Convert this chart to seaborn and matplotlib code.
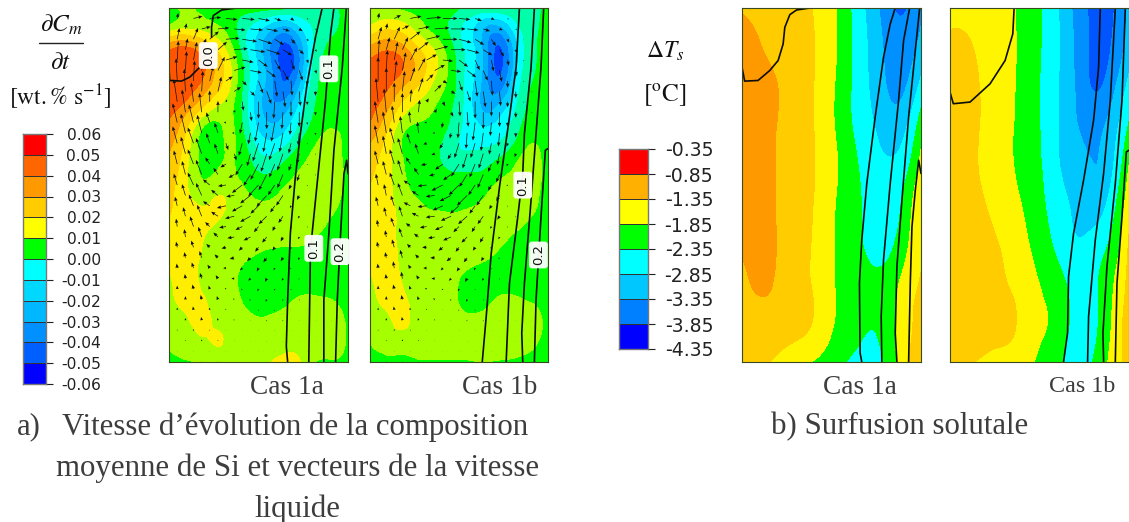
import numpy as np
import matplotlib
matplotlib.use("Agg")
import matplotlib.pyplot as plt
import matplotlib.tri as mtri
from matplotlib.colors import ListedColormap
import seaborn as sns

W, H = 1129, 522

# ---------- legends ----------
rate_ticks = ["0.06","0.05","0.04","0.03","0.02","0.01","0.00","-0.01","-0.02","-0.03","-0.04","-0.05","-0.06"]
rate_bar_colors = ["#FF0000","#FF6600","#FF9900","#FFCC00","#FFFF00","#00FF00","#00FFFF","#00D8FF","#00B8FF","#0090FF","#0060FF","#0000FF"]
dt_ticks = ["-0.35","-0.85","-1.35","-1.85","-2.35","-2.85","-3.35","-3.85","-4.35"]
dt_bar_colors = ["#FF0000","#FFB000","#FFFF00","#00FF00","#00FFFF","#00C8FF","#0080FF","#0000FF"]

# ---------- fields ----------
rate_levels = [-6,-5,-4,-3,-2,-1,0,1,2,3,4,5,6]
rate_colors = ["#0040FF","#0080FF","#00AAFF","#00D0FF","#00FFFF","#00FFA8","#00FF00","#A6FF00","#FFEE00","#FFCC00","#FF9900","#FF5500"]
dt_levels = [-4.35,-3.85,-3.35,-2.85,-2.35,-1.85,-1.35,-0.85,-0.35]
dt_colors = ["#0055FF","#0090FF","#00C8FF","#00FFFF","#00FF00","#FFF500","#FFCC00","#FF9900"]

rows_fine = [22,85,147,210,273,335,398,460,523,586,648,711,773,836,899,961,1024,1087]
rows_coarse = [22,140,259,377,496,614,733,851,969,1087]
cols_A = [508,557,605,654,702,751,799,848,896,945,993,1042]
cols_B = [30,79,127,176,225,274,322,371,420,469,517,566]
cols_C = [427,476,524,573,622,670,719,768,816,865,913,962]
cols_D = [30,79,127,176,225,274,322,371,420,469,517,566]

field_A = [
[.8,1.2,.8,.6,.5,.4,.3,.2,.0,-.3,-.3,.5],
[1.5,2,1.8,1.2,.2,-1.2,-2.5,-3.5,-2.4,-.8,-.2,.5],
[5.0,5.4,4.4,2.8,.9,-1.5,-3.6,-5.4,-4,-.8,.2,.6],
[5.8,5.8,5.3,3.6,1.6,-1.1,-3.2,-5.3,-4,-.5,.3,.6],
[5.7,5.4,4.4,3,1.3,-1.4,-3.4,-4.6,-2.8,-.2,.5,.7],
[5.3,4.2,2.6,1.5,.9,-1.5,-3.3,-3.3,-1.6,.1,.6,.7],
[4.5,3,.8,.7,1.05,-1.0,-2.4,-2.1,-.6,.6,1.1,.7],
[4,2.5,.7,.7,1.05,-.2,-1.2,-.6,.4,1.2,1.3,.7],
[3.6,2.2,.9,1.2,1.1,.4,-.0,.5,1.1,1.4,1.4,.8],
[3.2,2.3,1.6,2.0,1.6,1.0,.8,1.2,1.5,1.5,1.3,.7],
[3,2.6,2.2,2.1,1.6,1.4,1.4,1.5,1.5,1.3,1.0,.7],
[2.7,2.6,2.1,1.7,1.5,1.4,1.3,1.3,1.2,1.0,.8,.6],
[2.5,2.5,1.9,1.5,1.3,1.0,.8,.7,.7,.7,.6,.5],
[1.8,2.5,1.8,1.4,1.1,.6,.5,.5,.5,.5,.5,.5],
[1.6,2.4,2.2,1.5,1.2,.7,.6,.7,1.1,1.1,1.0,.7],
[1.5,1.8,2.4,1.7,1.4,1.2,1.1,1.3,1.4,1.4,1.3,.9],
[1.1,1.5,1.8,2.1,1.6,1.5,1.5,1.6,1.6,1.6,1.4,.9],
[.7,.9,1,1.1,1.2,1.3,1.8,2.3,2.1,1.0,.9,.7],
]
field_B = [
[.9,1.0,.8,.6,.5,.3,-.1,-.2,-.1,-.2,-.4,.4],
[2.3,2.9,2.6,1.6,.6,-.2,-1.5,-3,-3.5,-1.5,-.3,.4],
[4.4,4.9,4.4,3.1,1.9,.3,-1.3,-3.2,-5.2,-2.5,-.3,.5],
[5.4,5.6,5.0,3.6,2.2,.6,-1.3,-3.2,-5.2,-2.3,-.2,.5],
[5.6,5.0,3.7,2.6,1.5,.4,-1.4,-3.4,-4.1,-1.6,.1,.5],
[5.3,4.0,2.3,1.4,.9,.0,-1.4,-3,-2.4,-.9,.3,.6],
[4.5,3,1.1,.7,.5,-.4,-1.3,-1.6,-1.4,-.3,.7,.6],
[3.5,2.5,1,.4,.2,-.7,-.9,-.8,-.3,.6,1.2,.6],
[3.1,2.4,1.2,.5,.3,.1,.1,.2,.8,1.2,1.3,.7],
[2.9,2.4,1.4,.9,.5,.5,.6,.9,1.3,1.4,1.2,.7],
[2.7,2.6,1.6,1.3,1.2,1.1,1.2,1.3,1.4,1.3,1.0,.7],
[2.4,2.6,1.6,1.4,1.4,1.4,1.3,1.3,1.2,.9,.7,.6],
[2.2,2.7,1.7,1.4,1.3,1.3,1.2,1.1,.8,.7,.6,.5],
[1.8,2.6,1.9,1.4,1.3,1.2,.8,.6,.6,.6,.5,.5],
[1.4,2.4,2.3,1.4,1.3,1.2,.7,.7,1.1,1.1,.9,.6],
[1.2,1.7,2.3,1.5,1.4,1.3,1.2,1.3,1.5,1.4,1.3,.8],
[1.0,1.4,1.5,1.5,1.5,1.5,1.5,1.6,1.6,1.5,1.2,.7],
[.5,.7,.8,.9,.9,.9,.9,1,.9,.8,.7,.5],
]
field_C = [
[-.9,-1.0,-1.05,-1.15,-1.28,-1.55,-1.95,-2.55,-3.1,-3.7,-3.9,-3.4],
[-.6,-.8,-1.0,-1.1,-1.25,-1.5,-1.95,-2.5,-3.0,-3.5,-3.6,-3.2],
[-.6,-.65,-.8,-1.05,-1.25,-1.55,-2.0,-2.5,-2.95,-3.4,-3.4,-2.7],
[-.6,-.65,-.82,-1.05,-1.25,-1.55,-2.0,-2.45,-2.8,-3.1,-2.95,-2.1],
[-.6,-.65,-.83,-1.05,-1.25,-1.5,-1.9,-2.3,-2.65,-2.8,-2.55,-1.7],
[-.62,-.68,-.84,-1.05,-1.27,-1.55,-1.95,-2.25,-2.6,-2.7,-2.2,-1.45],
[-.78,-.7,-.82,-1.1,-1.3,-1.6,-1.95,-2.2,-2.55,-2.5,-2.0,-1.4],
[-.95,-.8,-.87,-1.1,-1.3,-1.6,-1.95,-2.15,-2.2,-2.1,-1.7,-1.3],
[-1,-1.0,-1.05,-1.15,-1.28,-1.6,-1.95,-2.15,-2.3,-2.05,-1.6,-1.1],
[-1.15,-1.25,-1.4,-1.6,-1.8,-2.0,-2.25,-2.5,-2.55,-2.2,-1.5,-1.1],
]
field_D = [
[-1.4,-1.45,-1.5,-1.65,-1.85,-2.15,-2.5,-3.05,-3.65,-4.0,-3.9,-3.2],
[-1.3,-1.3,-1.45,-1.62,-1.83,-2.15,-2.5,-3.0,-3.6,-4.0,-3.8,-3.1],
[-1.2,-1.2,-1.4,-1.65,-1.85,-2.15,-2.55,-3.0,-3.55,-3.9,-3.5,-2.7],
[-1.2,-1.2,-1.4,-1.65,-1.87,-2.15,-2.55,-3.0,-3.4,-3.5,-3.1,-2.3],
[-1.15,-1.2,-1.42,-1.65,-1.87,-2.15,-2.5,-2.95,-3.2,-3.35,-2.9,-1.85],
[-1.1,-1.15,-1.3,-1.55,-1.75,-2.05,-2.4,-2.75,-3.05,-3.1,-2.55,-1.55],
[-1.1,-1.1,-1.2,-1.35,-1.6,-1.9,-2.25,-2.6,-2.8,-2.6,-2.2,-1.3],
[-1.1,-1.1,-1.15,-1.25,-1.45,-1.7,-2.0,-2.3,-2.6,-2.4,-1.9,-1.2],
[-1.1,-1.1,-1.15,-1.2,-1.33,-1.65,-1.85,-2.2,-2.55,-2.4,-1.8,-1.05],
[-1.2,-1.3,-1.4,-1.5,-1.6,-1.8,-2.1,-2.4,-2.65,-2.2,-1.7,-1.1],
]

# ---------- velocity estimates, px per arrow, up positive ----------
U_A = [
[1,8,10,10,11,10,6,3,1,0,0],[2,4,8,12,13,12,8,4,1,0,0],[1,3,6,10,10,8,5,3,1,0,0],
[-1,1,3,6,4,4,2,1,0,0,0],[-3,-2,0,1,1,0,-1,0,0,0,0],[-4,-4,-3,-2,-2,-3,-3,-1,0,0,0],
[-4,-5,-3,2,-3,-5,-5,-2,0,0,0],[-3,-5,-4,-5,-6,-7,-5,-2,0,0,0],[-3,-5,-6,-7,-9,-9,-6,-2,0,0,0],
[-2,-4,-6,-8,-9,-7,-4,-1,0,0,0],[-1,-3,-4,-6,-6,-4,-2,-1,0,0,0],[-1,-2,-3,-4,-3,-3,-2,-1,0,0,0],
[-.5,-1.5,-2,-2.5,-2,-1.5,-1,-.5,0,0,0],[0,-1,-1,-1,-1,-1,-.5,0,0,0,0],[0,-.5,-.5,-.5,-.5,-.5,-.3,0,0,0,0],
[0,0,0,0,0,0,0,0,0,0,0],[0,0,0,0,0,0,0,0,0,0,0],
]
V_A = [
[5,2,1,-1,-1,-2,-2,-2,-1,0,0],[10,10,7,1,-2,-4,-5,-4,-2,-.5,0],[17,16,12,3,-2,-6,-9,-9,-3,-.5,0],
[20,18,13,4,-4,-11,-14,-13,-4,-.5,0],[20,17,10,2,-8,-15,-15,-13,-3,-.5,0],[17,16,9,0,-10,-17,-17,-11,-2,-.5,0],
[15,14,9,-6,-11,-16,-15,-9,-1,0,0],[12,13,6,-3,-10,-14,-12,-6,-1,0,0],[10,11,5,-1,-7,-10,-9,-4,-1,0,0],
[8,10,4,-2,-5,-7,-6,-2,0,0,0],[7,9,4,-1,-3,-5,-4,-2,-1,0,0],[5,6,3,-1,-3,-4,-3,-2,-.5,0,0],
[4,5,3,0,-2,-3,-2,-1,0,0,0],[3,4,3,1,-1,-2,-1.5,-1,0,0,0],[2,3,2,1,0,-1,-1,-.5,0,0,0],
[1,1.5,1,.5,0,-.5,-.5,0,0,0,0],[.5,.5,.5,0,0,0,0,0,0,0,0],
]
U_B = [
[1,6,10,13,13,10,6,3,1,0,0],[3,5,9,12,13,11,8,4,1,0,0],[1,3,6,9,9,8,4,2,1,0,0],
[0,2,4,6,4,3,2,1,0,0,0],[-2,0,1,2,2,1,0,0,0,0,0],[-3,-2,-1,-2,-1,-1,-2,-1,0,0,0],
[-3,-4,-3,-3,-3,-4,-4,-2,-1,0,0],[-3,-4,-4,-5,-7,-7,-5,-3,-1,0,0],[-2,-4,-6,-8,-10,-9,-6,-3,-1,0,0],
[-2,-3,-6,-8,-9,-8,-5,-2,0,0,0],[-1,-3,-4,-6,-7,-5,-3,-1,0,0,0],[-1,-2,-3,-4,-4,-3,-2,-1,0,0,0],
[-.5,-1,-2,-3,-2,-2,-1,0,0,0,0],[0,-1,-1,-1.5,-1,-1,0,0,0,0,0],[0,-.5,-.5,-.5,-.5,-.5,0,0,0,0,0],
[0,0,0,0,0,0,0,0,0,0,0],[0,0,0,0,0,0,0,0,0,0,0],
]
V_B = [
[5,3,2,1,0,-1,-2,-1,-1,0,0],[11,11,7,3,0,-3,-5,-6,-3,-.5,0],[18,16,11,5,-1,-6,-9,-10,-5,-1,0],
[21,18,12,6,-2,-9,-14,-13,-6,-1,0],[21,17,11,3,-4,-13,-15,-13,-5,-1,0],[19,15,10,0,-5,-14,-16,-12,-4,-.5,0],
[16,14,9,-1,-5,-13,-13,-10,-3,0,0],[12,13,6,-1,-5,-11,-12,-7,-2,0,0],[10,11,4,-1,-5,-9,-9,-5,-1,0,0],
[8,9,3,-1,-4,-7,-7,-3,-1,0,0],[6,8,3,-1,-3,-5,-5,-2,-1,0,0],[5,7,3,0,-3,-4,-3,-1,0,0,0],
[4,6,3,0,-2,-3,-2,-1,0,0,0],[3,4,3,1,-1,-2,-1,0,0,0,0],[2,3,2,1,0,-1,-1,0,0,0,0],
[1,1.5,1,.5,0,-.5,-.5,0,0,0,0],[.5,.5,.5,0,0,0,0,0,0,0,0],
]

# ---------- black iso-lines ----------
lines_A = [
 [(710,22),(665,28),(640,45),(635,80),(635,110)],
 [(600,200),(570,230),(545,242),(510,240),(508,205)],
 [(965,22),(945,110),(920,250),(900,400),(885,530),(870,700),(862,900),(858,1040),(862,1087)],
 [(1000,22),(990,100),(975,300),(960,450),(945,600),(930,750),(925,1087)],
 [(1037,22),(1025,200),(1000,450),(985,700),(970,900),(970,1087)],
 [(1042,520),(1038,480),(1030,520),(1020,700),(1010,900),(1005,1087)],
]
lines_B = [
 [(480,22),(470,200),(450,350),(420,560),(395,760),(380,950),(368,1087)],
 [(525,22),(515,200),(495,400),(490,520),(475,650),(450,850),(440,1087)],
 [(553,22),(545,200),(530,400),(515,600),(495,850),(487,1000),(490,1087)],
 [(566,445),(558,450),(545,650),(530,900),(525,1087)],
]
lines_C = [
 [(630,22),(590,28),(570,42),(555,80),(550,130),(535,180),(510,210),(475,240),(435,242),(428,205)],
 [(885,22),(870,70),(850,170),(825,350),(800,550),(785,720),(778,850),(780,1060),(785,1087)],
 [(928,22),(910,120),(895,300),(870,550),(850,780),(843,950),(845,1087)],
 [(958,22),(945,150),(925,350),(905,600),(890,800),(885,1000),(890,1087)],
 [(962,520),(955,480),(945,570),(935,680),(930,850),(925,1087)],
]
lines_D = [
 [(222,22),(218,100),(195,180),(150,250),(90,305),(40,310),(30,275)],
 [(480,22),(475,200),(460,360),(430,540),(400,700),(385,830),(382,1000),(370,1087)],
 [(525,22),(510,300),(490,520),(465,720),(445,950),(442,1087)],
 [(555,22),(545,300),(525,550),(500,800),(488,1000),(490,1087)],
 [(566,450),(558,455),(545,650),(530,850),(525,1087)],
]
labels_A = [("0.0",625,165),("0.1",985,205),("0.1",940,745),("0.2",1018,755)]
labels_B = [("0.1",490,555),("0.2",537,765)]

sns.set_theme(style="white")
plt.rcParams["font.family"] = ["DejaVu Sans"]
plt.rcParams["mathtext.fontset"] = "stix"
fig = plt.figure(figsize=(W/100, H/100), dpi=100, facecolor="white")

def axpx(x0, y0, x1, y1):
    return fig.add_axes([x0/W, 1-y1/H, (x1-x0)/W, (y1-y0)/H])

def tx(x, y, s, **k):
    k.setdefault("ha", "left"); k.setdefault("va", "center")
    return fig.text(x/W, 1-y/H, s, **k)

def panel(rect, cols, rows, field, levels, colors, iso, labels=(), U=None, V=None):
    ax = axpx(*rect)
    Xg, Yg = np.meshgrid(cols, rows)
    tri = mtri.Triangulation(Xg.ravel().astype(float), Yg.ravel().astype(float))
    rtri, rz = mtri.UniformTriRefiner(tri).refine_field(np.array(field, float).ravel(), subdiv=3)
    ax.tricontourf(rtri, rz, levels=levels, colors=colors, extend="both")
    for ln in iso:
        p = np.array(ln)
        sns.lineplot(x=p[:,0], y=p[:,1], sort=False, estimator=None, color="#0c0c0c", lw=1.2, ax=ax, legend=False)
    if U is not None:
        c = np.array(cols, float); r = np.array(rows, float)
        xc = (c[:-1]+c[1:])/2; yc = (r[:-1]+r[1:])/2
        Xc, Yc = np.meshgrid(xc, yc)
        U_, V_ = np.array(U, float), np.array(V, float)
        kw = dict(angles="xy", scale_units="xy", scale=1/3.4, units="dots", width=0.7,
                  headwidth=5, headlength=6, headaxislength=5.5, minlength=0.5,
                  pivot="tail", color="#111111", zorder=3)
        ax.quiver(Xc, Yc, U_, -V_, **kw)
        ax.quiver(Xc+(c[1]-c[0])/2, Yc+(r[1]-r[0])/2, U_, -V_, **kw)
    ax.set_xlim(cols[0], cols[-1]); ax.set_ylim(rows[-1], rows[0])
    ax.set_xticks([]); ax.set_yticks([]); ax.set_xlabel(""); ax.set_ylabel("")
    for s in ax.spines.values():
        s.set_visible(True); s.set_color("#3a4a20"); s.set_linewidth(0.8)
    for s, x, y in labels:
        ax.text(x, y, s, rotation=90, ha="center", va="center", fontsize=9.5, color="#111", zorder=5,
                bbox=dict(boxstyle="round,pad=0.22", fc="white", ec="none", alpha=0.95))
    return ax

panel((169,8,348,362), cols_A, rows_fine, field_A, rate_levels, rate_colors, lines_A, labels_A, U_A, V_A)
panel((370,8,548,362), cols_B, rows_fine, field_B, rate_levels, rate_colors, lines_B, labels_B, U_B, V_B)
panel((742,8,921,362), cols_C, rows_coarse, field_C, dt_levels, dt_colors, lines_C)
panel((950,8,1129,362), cols_D, rows_coarse, field_D, dt_levels, dt_colors, lines_D)

def bar(rect, colors, ticks, fs):
    ax = axpx(*rect)
    n = len(colors)
    sns.heatmap(np.arange(n)[:,None], cmap=ListedColormap(colors), cbar=False, ax=ax,
                linewidths=0.4, linecolor="#333333", xticklabels=False)
    ax.yaxis.tick_right()
    ax.set_yticks(np.arange(n+1)); ax.set_yticklabels(ticks, rotation=0, fontsize=fs, color="#222", ha="right")
    ax.tick_params(axis="y", length=5, width=0.8, color="#222", right=True, left=False)
    for s in ax.spines.values():
        s.set_visible(True); s.set_color("#777"); s.set_linewidth(1)
    return ax

a = bar((23,134,46,384), rate_bar_colors, rate_ticks, 11.2)
a.tick_params(axis="y", pad=34.5)
b = bar((619,149,648,349), dt_bar_colors, dt_ticks, 13.6)
b.tick_params(axis="y", pad=42)

# ---------- text ----------
SER = "Liberation Serif"
GR = "#3d3d3d"
for x, s, fs in [(250,"Cas 1a",19.7),(462,"Cas 1b",19.7),(823,"Cas 1a",19.7),(1049,"Cas 1b",17.4)]:
    tx(x, 387, s, family=SER, fontsize=fs, color=GR)
cap = 22.2
tx(17, 427, "a)", family=SER, fontsize=cap, color=GR)
tx(62, 427, "Vitesse d’évolution de la composition", family=SER, fontsize=cap, color=GR)
tx(56, 468, "moyenne de Si et vecteurs de la vitesse", family=SER, fontsize=cap, color=GR)
tx(254, 509, "liquide", family=SER, fontsize=cap, color=GR)
tx(771, 427, "b) Surfusion solutale", family=SER, fontsize=cap, color=GR)

tx(61, 25, r"$\partial C_m$", ha="center", fontsize=18, color="#111")
fig.add_artist(plt.Line2D([39/W, 83/W], [1-43/H, 1-43/H], color="#222", lw=1))
tx(61, 62, r"$\partial t$", ha="center", fontsize=18, color="#111")
tx(60, 97, r"$[\mathrm{wt.\%\ s^{-1}}]$", ha="center", fontsize=17, color="#111")
tx(665, 51, r"$\Delta T_s$", ha="center", fontsize=17, color="#111")
tx(665, 95, r"$[\mathrm{{}^{o}C}]$", ha="center", fontsize=18, color="#111")

fig.savefig("out.png", dpi=100, facecolor="white")
